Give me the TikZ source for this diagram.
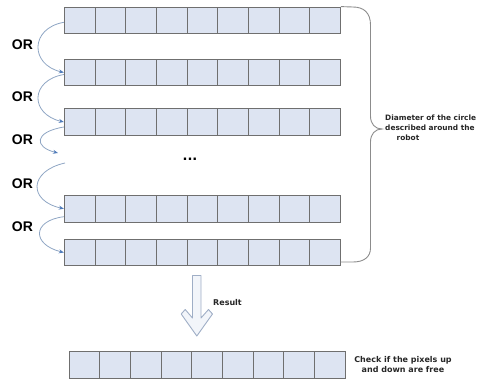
\documentclass[tikz,border=0pt]{standalone}
\usepackage{fontspec}
\setmainfont{DejaVu Sans}
\newfontfamily\orfont{Liberation Sans}
\usetikzlibrary{arrows.meta,calc}

\definecolor{cellfill}{HTML}{DDE4F2}
\definecolor{cellline}{HTML}{6F6F6F}
\definecolor{linkline}{HTML}{8FA6C4}
\definecolor{linktip}{HTML}{4F7BBA}
\definecolor{bracecol}{HTML}{8C8C8C}
\definecolor{bigarrowfill}{HTML}{F2F5FA}
\definecolor{bigarrowline}{HTML}{9FAEC6}

\tikzset{
  cellbox/.style={rectangle, draw=cellline, fill=cellfill, line width=0.9pt,
    minimum width=30.67pt, minimum height=26.5pt, inner sep=0pt},
  orlabel/.style={font=\orfont\bfseries\fontsize{14}{14}\selectfont, text=black, inner sep=0pt},
  smalltext/.style={font=\bfseries\fontsize{8}{10}\selectfont, text=black!85, inner sep=0pt},
  link/.style={draw=linkline, line width=0.8pt,
    -{Stealth[length=5pt,width=4pt,color=linktip,fill=linktip]}},
}

% one row of nine cells: name, left x, centre y
\newcommand\cellrow[3]{%
  \foreach \k in {1,...,9}
    \node[cellbox] (#1-\k) at ({#2+(\k-0.5)*30.67},#3) {};}

\begin{document}
\begin{tikzpicture}[x=1pt,y=1pt]
\useasboundingbox (0,0) rectangle (478,-380);

% rows of cells
\cellrow{r1}{64.3}{-20.3}
\cellrow{r2}{64.3}{-72.5}
\cellrow{r3}{64.3}{-122}
\cellrow{r4}{64.3}{-208.7}
\cellrow{r5}{64.3}{-252.5}
\cellrow{rb}{69}{-365}

% gap between the upper and lower rows
\node[font=\bfseries\fontsize{13}{13}\selectfont, inner sep=0pt] (dots) at (190,-159) {...};

% OR links between successive rows
\coordinate (gapin) at (58,-153);
\coordinate (gapout) at (65,-163);
\draw[link] ($(r1-1.west)+(0,-2)$) .. controls ($(r1-1.west)+(-34,-8)$) and ($(r2-1.west)+(-34,8)$) .. (r2-1.west);
\draw[link] ($(r2-1.west)+(0,-2)$) .. controls ($(r2-1.west)+(-34,-8)$) and ($(r3-1.west)+(-34,8)$) .. (r3-1.west);
\draw[link] ($(r3-1.west)+(0,-5)$) .. controls ($(r3-1.west)+(-30,-10)$) and ($(gapin)+(-24,6)$) .. (gapin);
\draw[link] (gapout) .. controls ($(gapout)+(-36,-8)$) and ($(r4-1.west)+(-36,8)$) .. (r4-1.west);
\draw[link] ($(r4-1.west)+(0,-8)$) .. controls ($(r4-1.west)+(-32,-12)$) and ($(r5-1.west)+(-32,8)$) .. (r5-1.west);

\node[orlabel] (or1) at (22.5,-45) {OR};
\node[orlabel] (or2) at (22.5,-97) {OR};
\node[orlabel] (or3) at (22.5,-140) {OR};
\node[orlabel] (or4) at (22.5,-183.3) {OR};
\node[orlabel] (or5) at (22.5,-226.7) {OR};

% brace spanning the rows
\draw[bracecol, line width=0.9pt]
  (r1-9.north east) -- (353,-7)
  .. controls (364,-7) and (370.5,-13) .. (370.5,-25)
  -- (370.5,-116)
  .. controls (370.5,-124) and (375,-129) .. (382,-129)
  .. controls (375,-129) and (370.5,-134) .. (370.5,-142)
  -- (370.5,-248)
  .. controls (370.5,-257) and (364,-262) .. (353,-262)
  -- (340.3,-262);
\node[smalltext, font=\bfseries\fontsize{7.4}{10}\selectfont, anchor=west, align=left]
  (bracetext) at (385,-128)
  {Diameter of the circle\\described around the\\\hspace*{11.5pt}robot};

% hollow result arrow
\draw[fill=bigarrowfill, draw=bigarrowline, line width=0.9pt, line join=round]
  (192.5,-275.5) -- (201,-275.5) -- (201,-318) -- (208.5,-309.5) -- (212.5,-314)
  -- (196.8,-336) -- (181.2,-314) -- (185.2,-309.5) -- (192.5,-318) -- cycle;
\node[smalltext, anchor=west] (result) at (213,-302.3) {Result};

\node[smalltext, align=center] (checktext) at (403,-364.5)
  {Check if the pixels up\\and down are free};
\end{tikzpicture}
\end{document}
